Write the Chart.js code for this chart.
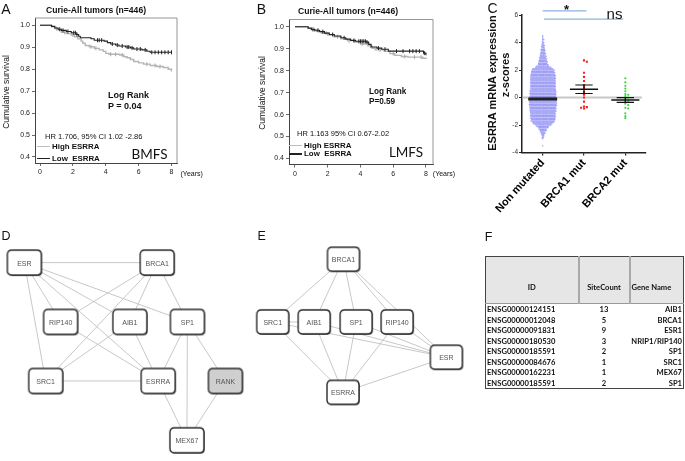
<!DOCTYPE html>
<html><head><meta charset="utf-8">
<script src="https://cdn.jsdelivr.net/npm/chart.js@4.4.1/dist/chart.umd.min.js"></script>
<style>
html,body{margin:0;padding:0;background:#fff;}
#root{position:relative;width:685px;height:461px;overflow:hidden;font-family:Arial,"Liberation Sans",sans-serif;color:#111;}
.t{position:absolute;white-space:nowrap;line-height:1;}
.c{transform:translate(-50%,-50%);}
.l{transform:translateY(-50%);}
.r{transform:translate(-50%,-50%) rotate(-90deg);}
.b{font-weight:bold;}
canvas{position:absolute;}
.lg{position:absolute;height:1.4px;}
#tbl{position:absolute;left:485px;top:256px;border-collapse:collapse;table-layout:fixed;width:198px;border:1px solid #444;font-family:Lato,"Open Sans",sans-serif;font-weight:bold;font-size:7.6px;color:#111;}
#tbl th{padding:0;background:#e6e6e6;border-right:2px solid #a9a9a9;border-bottom:1px solid #999;font-weight:bold;}
#tbl th:last-child{border-right:none;}
#tbl th div{height:46px;display:flex;align-items:flex-end;justify-content:center;box-sizing:border-box;padding-bottom:11px;}
#tbl th.gn div{justify-content:flex-start;padding-left:1px;}
#tbl td{padding:0;}
#tbl td div{height:10.5px;line-height:10.5px;white-space:nowrap;}
.nl{position:absolute;transform:translate(-50%,-50%);font-size:7px;color:#555;line-height:1;white-space:nowrap;font-family:Arial,sans-serif;}
</style></head><body><div id="root">
<canvas id="cA" width="230" height="185" style="left:0;top:0"></canvas>
<canvas id="cB" width="230" height="185" style="left:254px;top:0"></canvas>
<canvas id="cC" width="230" height="230" style="left:455px;top:0"></canvas>
<canvas id="cN" width="485" height="236" style="left:0;top:225px"></canvas>

<div class="t c" style="left:6px;top:8.5px;font-size:14px">A</div>
<div class="t c b" style="left:96px;top:10.3px;font-size:8.6px">Curie-All tumors (n=446)</div>
<div class="t r" style="left:6px;top:91.5px;font-size:8.5px">Cumulative survival</div>
<div class="t c" style="left:191.7px;top:173px;font-size:7px">(Years)</div>
<div class="t l b" style="left:108px;top:95px;font-size:9px">Log Rank</div>
<div class="t l b" style="left:108px;top:105.5px;font-size:9px">P = 0.04</div>
<div class="t l" style="left:45px;top:136.7px;font-size:7.6px">HR 1.706, 95% CI 1.02 -2.86</div>
<div class="lg" style="left:37px;top:146px;width:13px;background:#bdbdbd"></div>
<div class="t l b" style="left:52px;top:146.7px;font-size:7.9px">High ESRRA</div>
<div class="lg" style="left:37px;top:157.6px;width:13px;background:#222"></div>
<div class="t l b" style="left:52px;top:158.5px;font-size:7.9px">Low&nbsp; ESRRA</div>
<div class="t c" style="left:149.5px;top:154.5px;font-size:13.5px;font-family:Lato,sans-serif">BMFS</div>

<div class="t c" style="left:261.5px;top:8.7px;font-size:14px">B</div>
<div class="t c b" style="left:348px;top:10.7px;font-size:8.6px">Curie-All tumors (n=446)</div>
<div class="t r" style="left:261.5px;top:92.5px;font-size:8.5px">Cumulative survival</div>
<div class="t c" style="left:444px;top:173px;font-size:7px">(Years)</div>
<div class="t l b" style="left:369px;top:92px;font-size:8.2px">Log Rank</div>
<div class="t l b" style="left:369px;top:102px;font-size:8.2px">P=0.59</div>
<div class="t l" style="left:297px;top:134px;font-size:7.5px">HR 1.163 95% CI 0.67-2.02</div>
<div class="lg" style="left:289px;top:145px;width:13px;background:#bdbdbd"></div>
<div class="t l b" style="left:304px;top:145.7px;font-size:7.9px">High ESRRA</div>
<div class="lg" style="left:289px;top:153.4px;width:13px;background:#222"></div>
<div class="t l b" style="left:304px;top:154.3px;font-size:7.9px">Low&nbsp; ESRRA</div>
<div class="t c" style="left:406px;top:153.3px;font-size:13.5px;font-family:Lato,sans-serif">LMFS</div>

<div class="t c" style="left:492.5px;top:8px;font-size:14px">C</div>
<div class="t r b" style="left:492px;top:83px;font-size:11px">ESRRA mRNA expression</div>
<div class="t r b" style="left:504.5px;top:75px;font-size:11px">z-scores</div>
<div class="t c b" style="left:566.5px;top:9px;font-size:13px">*</div>
<div class="t c" style="left:614.5px;top:13px;font-size:15px">ns</div>

<div class="t c" style="left:6px;top:236.3px;font-size:12.5px">D</div>
<div class="t c" style="left:261.7px;top:236.3px;font-size:12.5px">E</div>
<div class="t c" style="left:488.7px;top:237px;font-size:12.5px">F</div>

<table id="tbl">
<colgroup><col style="width:93px"><col style="width:51px"><col style="width:54px"></colgroup>
<thead><tr><th><div>ID</div></th><th><div>SiteCount</div></th><th class="gn"><div>Gene Name</div></th></tr></thead>
<tbody id="tbody"></tbody>
</table>
</div>
<script>
// ---------------- DATA ----------------
// Panel A (BMFS) Kaplan-Meier curves: [years, survival]
const kmA_low = [[0,1],[0.6,1],[0.7,0.995],[0.9,0.988],[1.1,0.982],[1.3,0.977],[1.6,0.972],[1.9,0.966],[2.2,0.958],[2.35,0.95],[2.45,0.943],[3.1,0.939],[3.3,0.932],[3.9,0.928],[4.1,0.921],[4.3,0.915],[4.6,0.91],[4.8,0.906],[5.2,0.901],[5.5,0.897],[5.7,0.892],[6.2,0.888],[6.5,0.882],[6.7,0.877],[8.0,0.877]];
const kmA_high = [[0,1],[0.6,1],[0.7,0.993],[0.9,0.985],[1.1,0.978],[1.3,0.968],[1.6,0.962],[1.9,0.956],[2.1,0.948],[2.3,0.938],[2.5,0.928],[2.6,0.918],[2.75,0.908],[3.0,0.902],[3.3,0.895],[3.6,0.888],[3.85,0.881],[4.0,0.872],[4.2,0.868],[4.85,0.865],[5.1,0.857],[5.3,0.852],[5.5,0.844],[5.7,0.835],[6.0,0.829],[6.3,0.823],[6.7,0.817],[7.1,0.812],[7.5,0.808],[7.8,0.8],[8.0,0.79]];
const kmA_lowCens = [1.2,1.4,1.7,2.05,2.15,2.25,3.5,3.6,3.75,4.4,4.7,5.0,5.3,5.4,5.6,5.9,6.1,6.4,6.8,7.0,7.2,7.4,7.6,7.8,8.0];
const kmA_highCens = [1.0,1.5,2.0,3.1,3.4,4.3,4.6,5.0,6.5,7.0,7.3];
// Panel B (LMFS)
const kmB_low = [[0,1],[0.6,1],[0.8,0.994],[1.0,0.988],[1.2,0.984],[1.5,0.978],[1.8,0.971],[2.1,0.965],[2.4,0.958],[2.8,0.95],[3.1,0.944],[3.4,0.938],[3.7,0.934],[4.35,0.93],[4.5,0.92],[4.65,0.908],[5.0,0.903],[5.3,0.898],[5.7,0.889],[7.7,0.889],[7.85,0.88],[8.0,0.87]];
const kmB_high = [[0,1],[0.6,1],[0.8,0.993],[1.0,0.986],[1.3,0.979],[1.6,0.972],[2.0,0.963],[2.4,0.955],[2.8,0.945],[3.2,0.937],[3.6,0.93],[4.0,0.922],[4.45,0.913],[4.7,0.902],[4.9,0.895],[5.45,0.888],[5.8,0.878],[6.1,0.87],[6.5,0.865],[6.9,0.862],[7.6,0.862],[7.8,0.857],[8.0,0.853]];
const kmB_lowCens = [1.1,1.4,1.7,2.3,3.0,3.6,3.9,4.0,4.1,4.2,4.3,4.4,5.1,5.5,6.2,6.6,7.0,7.2,7.4,7.6,7.9];
const kmB_highCens = [1.2,1.9,2.6,3.3,4.1,4.6,5.2,6.0,6.7,7.3,7.7];
const kmXTicks = [0,2,4,6,8];
const kmYTicks = [0.4,0.5,0.6,0.7,0.8,0.9,1.0];

// Panel C
const cCategories = ['Non mutated','BRCA1 mut','BRCA2 mut'];
const nonMutBins = [[4.5,1],[4.4,1],[4.3,1],[4.2,2],[4.1,1],[4.0,2],[3.9,2],[3.8,3],[3.7,3],[3.6,3],[3.5,4],[3.4,4],[3.3,4],[3.2,5],[3.1,5],[3.0,6],[2.9,6],[2.8,7],[2.7,7],[2.6,8],[2.5,8],[2.4,9],[2.3,11],[2.2,14],[2.1,18],[2.0,20],[1.9,20],[1.8,21],
[1.7,21],[1.6,22],[1.5,22],[1.4,22],[1.3,22],[1.2,22],[1.1,22],[1.0,22],[0.9,22],[0.8,22],[0.7,22],[0.6,22],[0.5,23],[0.4,23],[0.3,23],[0.2,23],[0.1,23],[0.0,23],[-0.1,24],[-0.2,24],[-0.3,24],[-0.4,24],[-0.5,24],[-0.6,24],[-0.7,23],[-0.8,23],[-0.9,23],[-1.0,23],[-1.1,22],[-1.2,22],[-1.3,22],[-1.4,22],[-1.5,22],[-1.6,21],[-1.7,21],
[-1.8,19],[-1.9,17],[-2.0,14],[-2.1,11],[-2.2,9],[-2.3,7],[-2.4,6],[-2.5,5],[-2.6,4],[-2.7,3],[-2.8,2],[-2.9,2],[-3.0,1],[-3.5,1]];
const brca1Vals = [2.7,2.6,1.8,1.5,1.2,0.9,0.75,0.6,0.4,0.2,0.0,-0.3,-0.65,-0.7,-0.75,-0.8];
const brca2Vals = [1.4,1.1,0.85,0.65,0.45,0.25,0.2,0.1,0.0,-0.1,-0.25,-0.3,-0.45,-0.55,-0.75,-0.8,-1.15,-1.35,-1.5];
const groupMean = [-0.1,0.6,-0.18];
const groupSEM = [0.03,0.31,0.17];
const cYTicks = [-4,-2,0,2,4,6];
const sigStar = [0,1.06,6.3];   // from category, to category, level
const sigNs = [0.03,1.95,5.7];

// Panel D network
const netD_nodes = ['ESR','BRCA1','RIP140','AIB1','SP1','SRC1','ESRRA','RANK','MEX67'];
const netD_x = [18.8,155,56,127,186,40.7,156,225,185.5];
const netD_y = [258.3,258.3,320.8,320.8,320.8,383,383,383,445.5];
const netD_gray = ['RANK'];
const netD_edges = [['ESR','BRCA1'],['ESR','RIP140'],['ESR','SRC1'],['ESR','AIB1'],['ESR','ESRRA'],['ESR','SP1'],['BRCA1','RIP140'],['BRCA1','SRC1'],['BRCA1','AIB1'],['BRCA1','SP1'],['RIP140','ESRRA'],['AIB1','SRC1'],['AIB1','ESRRA'],['SRC1','ESRRA'],['SP1','ESRRA'],['SP1','MEX67'],['SP1','RANK'],['ESRRA','MEX67'],['RANK','MEX67']];
// Panel E network
const netE_nodes = ['BRCA1','SRC1','AIB1','SP1','RIP140','ESR','ESRRA'];
const netE_x = [346,273.5,316,359,401,451.5,345.5];
const netE_y = [254.7,320.8,320.8,320.8,320.8,358,395];
const netE_edges = [['BRCA1','SRC1'],['BRCA1','AIB1'],['BRCA1','SP1'],['BRCA1','RIP140'],['BRCA1','ESR'],['SRC1','AIB1'],['SRC1','ESR'],['SRC1','ESRRA'],['AIB1','ESRRA'],['AIB1','ESR'],['SP1','ESRRA'],['SP1','ESR'],['RIP140','ESRRA'],['RIP140','ESR'],['ESRRA','ESR']];

// Panel F table
const tableIDs = ['ENSG00000124151','ENSG00000012048','ENSG00000091831','ENSG00000180530','ENSG00000185591','ENSG00000084676','ENSG00000162231','ENSG00000185591'];
const tableSiteCount = [13,5,9,3,2,1,1,2];
const tableGenes = ['AIB1','BRCA1','ESR1','NRIP1/RIP140','SP1','SRC1','MEX67','SP1'];

// ---------------- CHARTS ----------------
Chart.defaults.font.family = 'Arial, "Liberation Sans", sans-serif';
const base = {responsive:false, animation:false, events:[], plugins:{legend:{display:false}, tooltip:{enabled:false}}};

function stepAt(curve, t){ let s = curve[0][1]; for (const [x,y] of curve){ if (x <= t) s = y; } return s; }

const framePlugin = {id:'frame', beforeDatasetsDraw(chart){ const a = chart.chartArea, ctx = chart.ctx; ctx.save(); ctx.strokeStyle = '#8a8a8a'; ctx.lineWidth = 0.9; ctx.beginPath(); ctx.moveTo(a.left, a.top); ctx.lineTo(a.right, a.top); ctx.lineTo(a.right, a.bottom); ctx.stroke(); ctx.restore(); }};

function drawKM(id, g, low, high, lowC, highC){
  const W = 230, H = 185, YW = 22, XH = 14;
  return new Chart(document.getElementById(id), {
    type:'scatter',
    data:{datasets:[
      {data: lowC.map(t => ({x:t, y:stepAt(low,t)})), pointStyle:'line', rotation:90, pointRadius:2, borderColor:'#222', borderWidth:1, order:0},
      {data: low.map(([x,y]) => ({x,y})), showLine:true, stepped:true, borderColor:'#222', borderWidth:1.1, pointRadius:0, order:1},
      {data: highC.map(t => ({x:t, y:stepAt(high,t)})), pointStyle:'line', rotation:90, pointRadius:2, borderColor:'#a8a8a8', borderWidth:1, order:2},
      {data: high.map(([x,y]) => ({x,y})), showLine:true, stepped:true, borderColor:'#b5b5b5', borderWidth:1.4, pointRadius:0, order:3}
    ]},
    options: Object.assign({}, base, {
      layout:{padding:{left:g.left-YW, right:W-g.right, top:g.top, bottom:H-g.bottom-XH}},
      scales:{
        x:{type:'linear', min:g.xmin, max:g.xmax,
           afterBuildTicks: s => { s.ticks = kmXTicks.map(v => ({value:v})); },
           afterFit: s => { s.height = XH; },
           ticks:{font:{size:7}, color:'#222', padding:2, maxRotation:0, autoSkip:false, callback: v => String(v)},
           grid:{drawOnChartArea:false, tickLength:3, color:'#444', lineWidth:0.8},
           border:{color:'#444', width:1}},
        y:{type:'linear', min:g.ymin, max:g.ymax,
           afterBuildTicks: s => { s.ticks = kmYTicks.map(v => ({value:v})); },
           afterFit: s => { s.width = YW; },
           ticks:{font:{size:7}, color:'#222', padding:2, autoSkip:false, callback: v => Number(v).toFixed(1)},
           grid:{drawOnChartArea:false, tickLength:3, color:'#444', lineWidth:0.8},
           border:{color:'#444', width:1}}
      }
    }),
    plugins:[framePlugin]
  });
}
drawKM('cA', {left:35, right:177, top:18, bottom:163, xmin:-0.305, xmax:8.335, ymin:0.3726, ymax:1.0333}, kmA_low, kmA_high, kmA_lowCens, kmA_highCens);
drawKM('cB', {left:35, right:179, top:19.5, bottom:164.5, xmin:-0.366, xmax:8.43, ymin:0.3726, ymax:1.0333}, kmB_low, kmB_high, kmB_lowCens, kmB_highCens);

// Panel C
function swarm(vals, cx, dx, dy){
  const placed = [];
  vals.forEach(v => {
    let off = 0;
    for (const k of [0,1,-1,2,-2,3,-3]){
      off = k*dx;
      if (!placed.some(p => Math.abs(p.y - v) < dy && Math.abs(p.x - (cx+off)) < dx*0.9)) break;
    }
    placed.push({x:cx+off, y:v});
  });
  return placed;
}
// beeswarm layout: each row spread horizontally, alternate rows staggered by half a slot
const bluePts = [];
nonMutBins.forEach(([v,n], r) => { const st = (r % 2) ? 0.014 : 0; for (let j=0;j<n;j++) bluePts.push({x:(j-(n-1)/2)*0.028 + (n > 1 ? st : 0), y:v}); });
const redPts = swarm(brca1Vals, 1, 0.07, 0.12);
const greenPts = swarm(brca2Vals, 2, 0.07, 0.12);

const cSets = [];
groupMean.forEach((m,i) => {
  const big = i === 0;
  const hw = big ? 0.35 : 0.34, cw = 0.21, lw = big ? 3 : 1.3, col = big ? '#222' : '#111';
  const seg = (pts, w) => ({data:pts, showLine:true, pointRadius:0, borderColor:col, borderWidth:w, order:0});
  cSets.push(seg([{x:i-hw,y:m},{x:i+hw,y:m}], lw));
  if (!big){
    cSets.push(seg([{x:i,y:m-groupSEM[i]},{x:i,y:m+groupSEM[i]}], 1.2));
    cSets.push(seg([{x:i-cw,y:m+groupSEM[i]},{x:i+cw,y:m+groupSEM[i]}], 1.2));
    cSets.push(seg([{x:i-cw,y:m-groupSEM[i]},{x:i+cw,y:m-groupSEM[i]}], 1.2));
  }
});
[sigStar, sigNs].forEach(s => cSets.push({data:[{x:s[0],y:s[2]},{x:s[1],y:s[2]}], showLine:true, pointRadius:0, borderColor:'#8fb1e3', borderWidth:1.3, clip:false, order:0}));
cSets.push({data:redPts, pointStyle:'rect', pointRadius:1.5, backgroundColor:'#ff1f1f', borderWidth:0, order:1});
cSets.push({data:greenPts, pointRadius:1.1, backgroundColor:'#3bd83b', borderWidth:0, order:1});
cSets.push({data:bluePts, pointRadius:0.75, backgroundColor:'rgba(70,70,238,0.5)', borderWidth:0, order:2});
cSets.push({data:[{x:-0.5,y:0},{x:2.4,y:0}], showLine:true, pointRadius:0, borderColor:'rgba(170,170,170,0.65)', borderWidth:2, order:3});

new Chart(document.getElementById('cC'), {
  type:'scatter',
  data:{datasets:cSets},
  options: Object.assign({}, base, {
    layout:{padding:{left:57, right:39, top:15, bottom:0}},
    scales:{
      x:{type:'linear', min:-0.5, max:2.5,
         afterBuildTicks: s => { s.ticks = [0,1,2].map(v => ({value:v})); },
         afterFit: s => { s.height = 77.5; },
         ticks:{callback: v => cCategories[v], font:{size:11, weight:'bold'}, color:'#000', minRotation:48, maxRotation:48, padding:1, autoSkip:false},
         grid:{drawOnChartArea:false, tickLength:3, color:'#222', lineWidth:1.2},
         border:{color:'#222', width:1.5}},
      y:{type:'linear', min:-4, max:6,
         afterBuildTicks: s => { s.ticks = cYTicks.map(v => ({value:v})); },
         afterFit: s => { s.width = 10; },
         ticks:{font:{size:6.5}, color:'#333', padding:1, autoSkip:false, callback: v => String(v)},
         grid:{drawOnChartArea:false, tickLength:3, color:'#222', lineWidth:1},
         border:{color:'#222', width:1.5}}
    }
  })
});

// Panels D & E network
function rr(g,x,y,w,h,r){ g.beginPath(); g.moveTo(x+r,y); g.lineTo(x+w-r,y); g.quadraticCurveTo(x+w,y,x+w,y+r); g.lineTo(x+w,y+h-r); g.quadraticCurveTo(x+w,y+h,x+w-r,y+h); g.lineTo(x+r,y+h); g.quadraticCurveTo(x,y+h,x,y+h-r); g.lineTo(x,y+r); g.quadraticCurveTo(x,y,x+r,y); g.closePath(); }
function boxImg(w,h,fill){
  const c = document.createElement('canvas'); c.width = w+4; c.height = h+4;
  const g = c.getContext('2d');
  g.fillStyle = 'rgba(0,0,0,0.55)'; rr(g,2.9,2.9,w,h,4.5); g.fill();
  g.fillStyle = fill; g.strokeStyle = '#2a2a2a'; g.lineWidth = 1.4; rr(g,2,2,w,h,4.5); g.fill(); g.stroke();
  return c;
}
const imgD = boxImg(34,25,'#ffffff'), imgDg = boxImg(34,25,'#cfcfcf'), imgE = boxImg(32,24,'#ffffff');
function edgeSets(names, xs, ys, edges){
  return edges.map(([a,b]) => { const i = names.indexOf(a), j = names.indexOf(b);
    return {data:[{x:xs[i],y:ys[i]},{x:xs[j],y:ys[j]}], showLine:true, pointRadius:0, borderColor:'#c2c2c2', borderWidth:0.9, order:2}; });
}
const netSets = [];
const dIdx = netD_nodes.map((n,i) => i);
netSets.push({data: dIdx.filter(i => !netD_gray.includes(netD_nodes[i])).map(i => ({x:netD_x[i], y:netD_y[i]})), pointStyle:imgD, pointRadius:5, order:0});
netSets.push({data: dIdx.filter(i => netD_gray.includes(netD_nodes[i])).map(i => ({x:netD_x[i], y:netD_y[i]})), pointStyle:imgDg, pointRadius:5, order:0});
netSets.push({data: netE_nodes.map((n,i) => ({x:netE_x[i], y:netE_y[i]})), pointStyle:imgE, pointRadius:5, order:0});
netSets.push(...edgeSets(netD_nodes, netD_x, netD_y, netD_edges));
netSets.push(...edgeSets(netE_nodes, netE_x, netE_y, netE_edges));

const labelPlugin = {id:'netLabels', afterRender(chart){
  if (chart.$done) return; chart.$done = true;
  const cv = chart.canvas, root = document.getElementById('root');
  const put = (names, xs, ys) => names.forEach((n,i) => {
    const d = document.createElement('div'); d.className = 'nl'; d.textContent = n;
    d.style.left = (cv.offsetLeft + chart.scales.x.getPixelForValue(xs[i])) + 'px';
    d.style.top = (cv.offsetTop + chart.scales.y.getPixelForValue(ys[i])) + 'px';
    root.appendChild(d);
  });
  put(netD_nodes, netD_x, netD_y); put(netE_nodes, netE_x, netE_y);
}};
new Chart(document.getElementById('cN'), {
  type:'scatter',
  data:{datasets:netSets},
  options: Object.assign({}, base, {
    layout:{padding:0},
    scales:{ x:{type:'linear', min:0, max:485, display:false}, y:{type:'linear', min:225, max:461, reverse:true, display:false} }
  }),
  plugins:[labelPlugin]
});

// Panel F table
const tb = document.getElementById('tbody');
tableIDs.forEach((id,i) => {
  const tr = document.createElement('tr');
  tr.innerHTML = '<td><div style="text-align:left;padding-left:1px">'+id+'</div></td><td><div style="text-align:center">'+tableSiteCount[i]+'</div></td><td><div style="text-align:right;padding-right:1px">'+tableGenes[i]+'</div></td>';
  tb.appendChild(tr);
});
</script>
</body></html>
